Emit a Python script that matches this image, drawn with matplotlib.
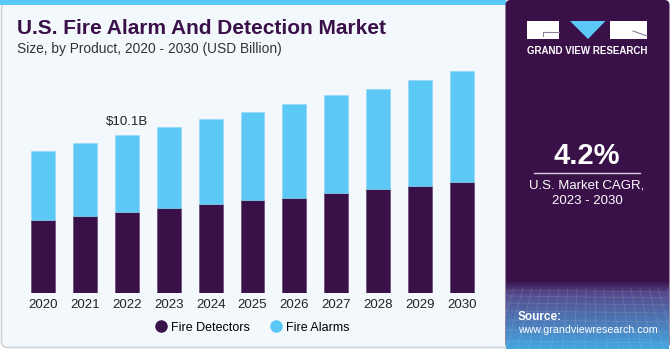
import numpy as np
import matplotlib
matplotlib.use("Agg")
import matplotlib.pyplot as plt
from matplotlib.patches import FancyBboxPatch, Rectangle, Polygon
from matplotlib.lines import Line2D

plt.rcParams["font.family"] = ["Liberation Sans", "DejaVu Sans"]

# data (USD billion)
years = ["2020", "2021", "2022", "2023", "2024", "2025", "2026", "2027", "2028", "2029", "2030"]
fire_detectors = [4.70, 4.93, 5.19, 5.44, 5.70, 5.95, 6.08, 6.40, 6.64, 6.83, 7.10]
fire_alarms = [4.40, 4.68, 4.91, 5.17, 5.42, 5.64, 6.02, 6.23, 6.39, 6.76, 7.08]
total_label_year = "2022"
total_label_text = "$10.1B"

DARK = "#3A1048"
LIGHT = "#5BC8F5"
BG = "#F3F8FC"

W, H = 670, 350
fig = plt.figure(figsize=(W / 100, H / 100), dpi=100)
fig.patch.set_facecolor("white")

# background layer in pixel coords
bg = fig.add_axes([0, 0, 1, 1], zorder=0)
bg.set_xlim(0, W)
bg.set_ylim(H, 0)
bg.axis("off")

bg.add_patch(FancyBboxPatch((1.5, 3), 510, 344.5, boxstyle="round,pad=0,rounding_size=6",
                            facecolor=BG, edgecolor="#cfd3d6", lw=1.2))
bg.add_patch(Rectangle((0, 0), 506, 5, facecolor=LIGHT, edgecolor="none"))

# right panel
bg.add_patch(FancyBboxPatch((505.5, 0), 164, 349, boxstyle="round,pad=0,rounding_size=5",
                            facecolor=DARK, edgecolor="none"))
# bottom gradient of the panel
ys = np.linspace(0, 1, 70)
c0 = np.array([0x3A, 0x10, 0x48]) / 255
c1 = np.array([0x55, 0x4C, 0x8E]) / 255
c2 = np.array([0x45, 0xA6, 0xE0]) / 255
grad = np.where(ys[:, None] < 0.2, c0 + (c1 - c0) * (ys[:, None] / 0.2),
                c1 + (c2 - c1) * ((ys[:, None] - 0.2) / 0.8))
grad_img = np.repeat(grad[:, None, :], 2, axis=1)
bg.imshow(grad_img, extent=(505.5, 668, 349, 280), aspect="auto", zorder=1, interpolation="bilinear")
for gx in np.arange(505, 670, 9):
    bg.plot([gx, gx + (gx - 590) * 0.25], [288, 349], color="white", alpha=0.12, lw=0.6, zorder=2)
for gy in [290, 296, 303, 311, 320, 330, 341]:
    bg.plot([506, 668], [gy, gy + 2], color="white", alpha=0.12, lw=0.6, zorder=2)

# logo
bg.add_patch(Rectangle((527, 21), 32, 18, facecolor="white", edgecolor="none", zorder=3))
bg.plot([543, 559], [31.5, 31.5], color="#8a7f95", lw=0.8, zorder=4)
bg.plot([543, 543], [31.5, 36], color="#8a7f95", lw=0.8, zorder=4)
bg.add_patch(Polygon([(570, 21), (605.5, 21), (588, 39)], closed=True, facecolor=LIGHT,
                     edgecolor="none", zorder=3))
bg.add_patch(Rectangle((610, 21), 37, 18, facecolor="white", edgecolor="none", zorder=3))
bg.plot([633, 647], [31, 36], color="#8a7f95", lw=0.8, zorder=4)
bg.text(587, 51, "GRAND VIEW RESEARCH", color="white", fontsize=7, fontweight="bold",
        ha="center", va="center", zorder=3)

bg.text(587, 156, "4.2%", color="white", fontsize=21, fontweight="bold", ha="center", va="center")
bg.plot([534, 640], [173.3, 173.3], color="#d8d0de", lw=1)
bg.text(587, 186, "U.S. Market CAGR,", color="white", fontsize=9.5, ha="center", va="center")
bg.text(587, 201, "2023 - 2030", color="white", fontsize=9.5, ha="center", va="center")
bg.text(518, 316.5, "Source:", color="white", fontsize=8.5, fontweight="bold",
        ha="left", va="center", zorder=5)
bg.text(518, 330, "www.grandviewresearch.com", color="white", fontsize=7.7,
        ha="left", va="center", zorder=5)

# titles
bg.text(17, 28.5, "U.S. Fire Alarm And Detection Market", color=DARK, fontsize=15,
        fontweight="bold", ha="left", va="center")
bg.text(17, 49.5, "Size, by Product, 2020 - 2030 (USD Billion)", color="#333333", fontsize=9.9,
        ha="left", va="center")

# chart
ax = fig.add_axes([22 / W, (H - 293.3) / H, 461 / W, 228.3 / H], zorder=2)
ax.patch.set_alpha(0)
x = np.arange(len(years))
ax.bar(x, fire_detectors, width=0.57, color=DARK, edgecolor="#5b3a68", linewidth=0.4)
ax.bar(x, fire_alarms, width=0.57, bottom=fire_detectors, color=LIGHT,
       edgecolor="#8fd8f7", linewidth=0.4)

ax.set_xlim(-0.5, len(years) - 0.5)
ax.set_ylim(0, 14.57)
ax.set_xticks(x)
ax.set_xticklabels(years, fontsize=9.5, color="#222222")
ax.tick_params(axis="x", length=0, pad=4)
ax.set_yticks([])
for s in ax.spines.values():
    s.set_visible(False)

i = years.index(total_label_year)
ax.text(i, fire_detectors[i] + fire_alarms[i] + 0.45, total_label_text, ha="center",
        va="bottom", fontsize=9.5, color="#222222")

handles = [Line2D([], [], marker="o", ls="none", color=DARK, markersize=8),
           Line2D([], [], marker="o", ls="none", color=LIGHT, markersize=8)]
ax.legend(handles, ["Fire Detectors", "Fire Alarms"], loc="center", bbox_to_anchor=(0.499, -0.151),
          ncol=2, frameon=False, fontsize=9, handletextpad=0.3, columnspacing=1.6, handlelength=1)

fig.savefig("out.png", dpi=100, facecolor=fig.get_facecolor())
